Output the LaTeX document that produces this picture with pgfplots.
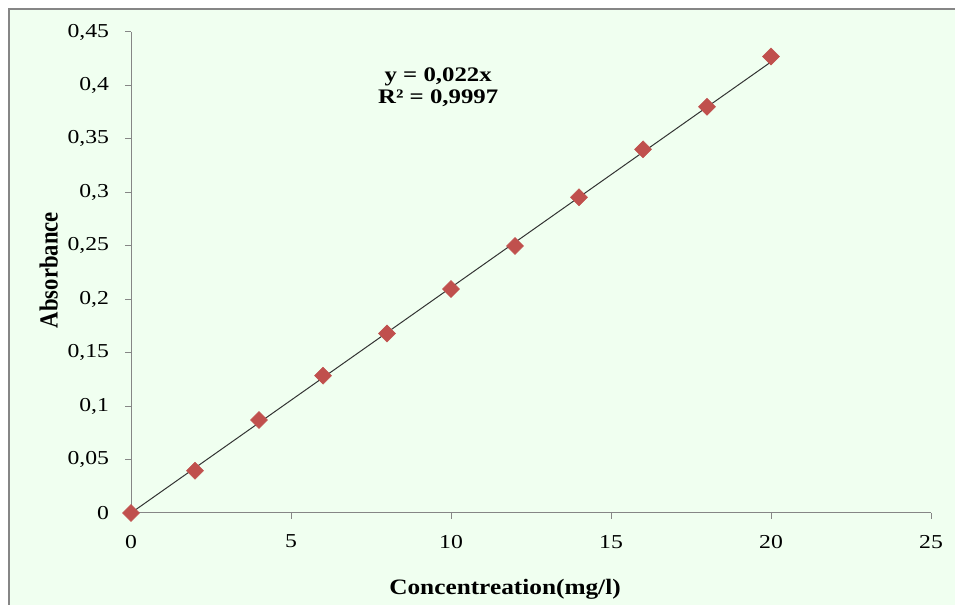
\documentclass[border=0pt]{standalone}
\usepackage{fontspec}
\setmainfont{Liberation Serif}
\usepackage{pgfplots}
\pgfplotsset{compat=1.18}
\definecolor{bg}{HTML}{F0FFF0}
\definecolor{axgray}{HTML}{868686}
\definecolor{mk}{HTML}{C0504D}
\begin{document}
\begin{tikzpicture}[x=0.75pt,y=0.75pt]
\useasboundingbox (0,0) rectangle (955,605);
\fill[white] (0,0) rectangle (955,605);
\fill[bg] (8.5,0) rectangle (955,595.5);
\draw[axgray, line width=1.5pt] (8.5,0) -- (8.5,595.5) -- (955,595.5);
\begin{axis}[
  at={(98.25pt,69pt)}, anchor=south west,
  width=600pt, height=360.75pt, scale only axis,
  xmin=0, xmax=25, ymin=0, ymax=0.45,
  axis x line*=bottom, axis y line*=left,
  axis line style={axgray, line width=0.75pt},
  xtick={0,5,10,15,20,25},
  ytick={0,0.05,0.1,0.15,0.2,0.25,0.3,0.35,0.4,0.45},
  tick align=outside, major tick length=4.5pt,
  tick style={axgray, line width=0.75pt},
  tick label style={font=\fontsize{14.8}{17}\selectfont, text=black, xscale=1.2},
  yticklabel style={xshift=-6.5pt},
  xticklabel style={yshift=-8.5pt},
  scaled y ticks=false,
  /pgf/number format/.cd, use comma, fixed, precision=2, assume math mode=true,
  /pgfplots/.cd,
  clip=false,
]
\addplot[black!80, line width=0.75pt, no marks] coordinates {(0,0) (20,0.422)};
\addplot[only marks, mark=square*, mark size=4.5pt, mark options={rotate=45, fill=mk, draw=mk}]
  coordinates {(0,0) (2,0.0396) (4,0.087) (6,0.1285) (8,0.168) (10,0.2095) (12,0.2498) (14,0.2953) (16,0.3402) (18,0.380) (20,0.427)};
\node[font=\fontsize{15.5}{16.5}\selectfont\bfseries, align=center, xscale=1.2] at (rel axis cs:0.384,0.886) {y = 0,022x\\R² = 0,9997};
\node[font=\fontsize{16.5}{20}\selectfont\bfseries, xscale=1.15] at (rel axis cs:0.4675,-0.158) {Concentreation(mg/l)};
\node[font=\fontsize{17}{20}\selectfont\bfseries, xscale=1.15, rotate=90] at (rel axis cs:-0.103,0.505) {Absorbance};
\end{axis}
\end{tikzpicture}
\end{document}
